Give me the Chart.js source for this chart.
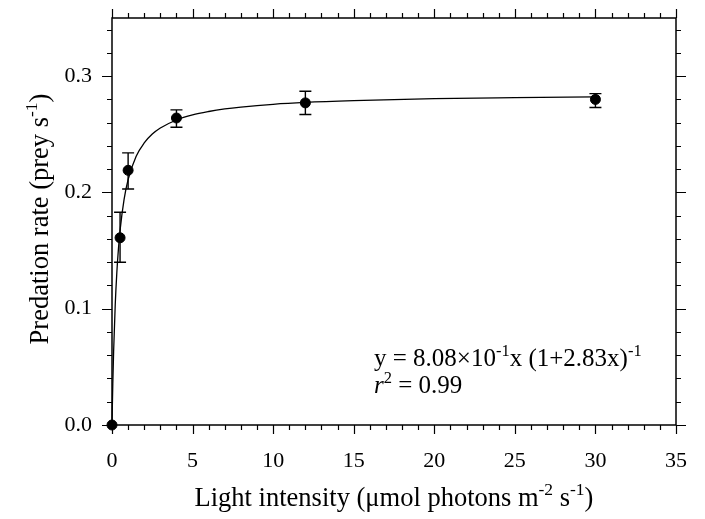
<!DOCTYPE html>
<html>
<head>
<meta charset="utf-8">
<script src="https://cdn.jsdelivr.net/npm/chart.js@4"></script>
<style>
  html, body { margin: 0; padding: 0; background: #fff; }
</style>
</head>
<body>
<canvas id="chart" width="705" height="519"></canvas>
<script>
// measured points (light intensity, predation rate) with error bar ends
const lightX = [0, 0.5, 1, 4, 12, 30];
const rateY = [0, 0.161, 0.219, 0.264, 0.277, 0.280];
const errLow = [0, 0.140, 0.203, 0.256, 0.267, 0.273];
const errHigh = [0, 0.183, 0.234, 0.271, 0.287, 0.285];

// fitted curve
const fitX = [0, 0.02, 0.05, 0.1, 0.2, 0.3, 0.4, 0.5, 0.75, 1, 1.5, 2, 2.5, 3, 4, 5, 6, 7, 8, 10, 12, 15, 20, 25, 30];
const fitY = [0, 0.0153, 0.0354, 0.0630, 0.1032, 0.1311, 0.1516, 0.1673, 0.1941, 0.2110, 0.2311, 0.2426,
              0.2502, 0.2554, 0.2623, 0.2667, 0.2696, 0.2718, 0.2734, 0.2758, 0.2774, 0.2789, 0.2806,
              0.2815, 0.2822];

const xTicks = [0, 5, 10, 15, 20, 25, 30, 35];
const yTicks = [0, 0.1, 0.2, 0.3];
const xMinorStep = 1;
const yMinorStep = 0.02;

const SERIF = "'Liberation Serif', 'Times New Roman', serif";

// draws pieces of text in a row, sup pieces smaller and raised
function drawRich(ctx, parts, x, y, size) {
  let cx = x;
  parts.forEach(p => {
    const fs = p.sup ? size * 0.66 : size;
    ctx.font = (p.italic ? 'italic ' : '') + fs + 'px ' + SERIF;
    ctx.fillText(p.t, cx, p.sup ? y - size * 0.40 : y);
    cx += ctx.measureText(p.t).width;
  });
}
function richWidth(ctx, parts, size) {
  let w = 0;
  parts.forEach(p => {
    const fs = p.sup ? size * 0.66 : size;
    ctx.font = (p.italic ? 'italic ' : '') + fs + 'px ' + SERIF;
    w += ctx.measureText(p.t).width;
  });
  return w;
}

const framePlugin = {
  id: 'frame',
  beforeDatasetsDraw(chart) {
    const ctx = chart.ctx;
    const xs = chart.scales.x, ys = chart.scales.y;
    ctx.save();
    ctx.strokeStyle = '#000';
    ctx.lineWidth = 1.4;
    for (let i = 0; i < lightX.length; i++) {
      if (errHigh[i] - errLow[i] <= 0) continue;
      const px = xs.getPixelForValue(lightX[i]);
      const top = ys.getPixelForValue(errHigh[i]);
      const bot = ys.getPixelForValue(errLow[i]);
      ctx.beginPath();
      ctx.moveTo(px, top); ctx.lineTo(px, bot);
      ctx.moveTo(px - 6, top); ctx.lineTo(px + 6, top);
      ctx.moveTo(px - 6, bot); ctx.lineTo(px + 6, bot);
      ctx.stroke();
    }
    ctx.restore();
  },
  afterDraw(chart) {
    const ctx = chart.ctx;
    const a = chart.chartArea;
    const xs = chart.scales.x, ys = chart.scales.y;
    ctx.save();
    ctx.strokeStyle = '#000';
    ctx.lineWidth = 1.5;
    ctx.strokeRect(a.left, a.top, a.right - a.left, a.bottom - a.top);

    ctx.lineWidth = 1.2;
    ctx.beginPath();
    for (let v = xs.min; v <= xs.max + 1e-9; v += xMinorStep) {
      const px = Math.round(xs.getPixelForValue(v)) + 0.5;
      const major = xTicks.some(t => Math.abs(t - v) < 1e-6);
      const len = major ? 9 : 5;
      ctx.moveTo(px, a.bottom); ctx.lineTo(px, a.bottom + len);
      ctx.moveTo(px, a.top); ctx.lineTo(px, a.top - len);
    }
    for (let v = ys.min; v <= ys.max + 1e-9; v += yMinorStep) {
      const py = Math.round(ys.getPixelForValue(v)) + 0.5;
      const major = yTicks.some(t => Math.abs(t - v) < 1e-6);
      const len = major ? 10 : 5;
      ctx.moveTo(a.left, py); ctx.lineTo(a.left - len, py);
      ctx.moveTo(a.right, py); ctx.lineTo(a.right + len, py);
    }
    ctx.stroke();

    ctx.fillStyle = '#000';
    ctx.textBaseline = 'alphabetic';
    ctx.textAlign = 'left';

    // x title
    const xt = [
      { t: 'Light intensity (\u03bcmol photons m' }, { t: '-2', sup: true },
      { t: ' s' }, { t: '-1', sup: true }, { t: ')' }
    ];
    const xw = richWidth(ctx, xt, 26.5);
    drawRich(ctx, xt, (a.left + a.right) / 2 - xw / 2, 506, 26.5);

    // y title
    const yt = [{ t: 'Predation rate (prey s' }, { t: '-1', sup: true }, { t: ')' }];
    const yw = richWidth(ctx, yt, 26.5);
    ctx.save();
    ctx.translate(48, 219);
    ctx.rotate(-Math.PI / 2);
    drawRich(ctx, yt, -yw / 2, 0, 26.5);
    ctx.restore();

    // fit equation
    drawRich(ctx, [
      { t: 'y = 8.08\u00d710' }, { t: '-1', sup: true },
      { t: 'x (1+2.83x)' }, { t: '-1', sup: true }
    ], 374, 366, 25);
    drawRich(ctx, [{ t: 'r', italic: true }, { t: '2', sup: true }, { t: ' = 0.99' }], 374, 393, 25);
    ctx.restore();
  }
};

new Chart(document.getElementById('chart'), {
  type: 'scatter',
  data: {
    datasets: [
      {
        type: 'line',
        data: fitX.map((x, i) => ({ x, y: fitY[i] })),
        borderColor: '#000',
        borderWidth: 1.3,
        pointRadius: 0,
        cubicInterpolationMode: 'monotone',
        fill: false,
        clip: false
      },
      {
        data: lightX.map((x, i) => ({ x, y: rateY[i] })),
        backgroundColor: '#000',
        borderColor: '#000',
        borderWidth: 1,
        pointRadius: 5,
        clip: false
      }
    ]
  },
  options: {
    responsive: false,
    animation: false,
    devicePixelRatio: 1,
    layout: { padding: { top: 18, right: 29, left: 0, bottom: 0 } },
    plugins: { legend: { display: false }, tooltip: { enabled: false } },
    scales: {
      x: {
        type: 'linear', min: 0, max: 35,
        afterBuildTicks: s => { s.ticks = xTicks.map(v => ({ value: v })); },
        afterFit: s => { s.height = 94; s.paddingLeft = 0; s.paddingRight = 0; },
        grid: { display: false }, border: { display: false },
        ticks: { color: '#000', padding: 15, font: { family: SERIF, size: 22 } }
      },
      y: {
        type: 'linear', min: 0, max: 0.35,
        afterBuildTicks: s => { s.ticks = yTicks.map(v => ({ value: v })); },
        afterFit: s => { s.width = 112; s.paddingTop = 0; s.paddingBottom = 0; },
        grid: { display: false }, border: { display: false },
        ticks: { color: '#000', padding: 12, font: { family: SERIF, size: 22 },
                 callback: v => v.toFixed(1) }
      }
    }
  },
  plugins: [framePlugin]
});
</script>
</body>
</html>
